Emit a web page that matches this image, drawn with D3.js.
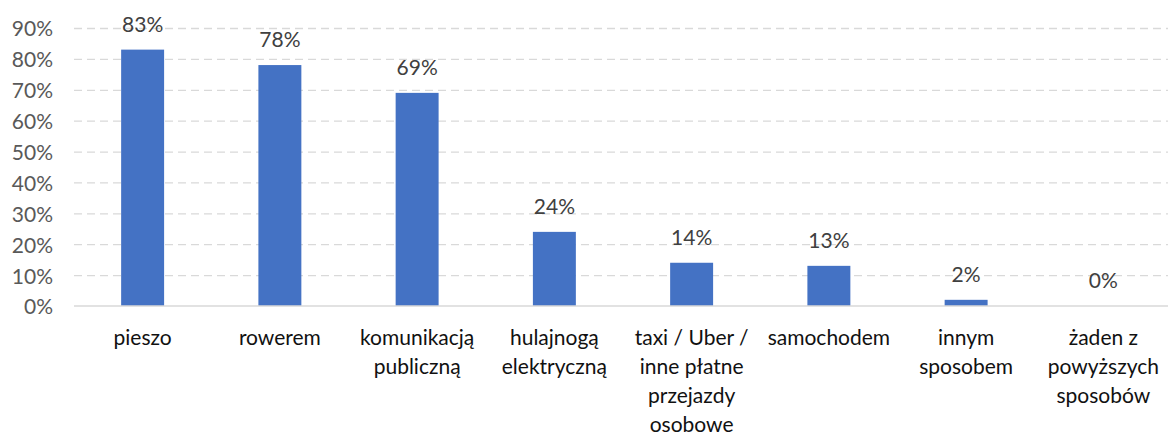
<html>
<meta charset="utf-8" />
<head>
<title>Sposoby przemieszczania się</title>
<script src="https://cdn.jsdelivr.net/npm/d3@7/dist/d3.min.js"></script>
<style>
	body { margin: 0; background: #fff; }
	svg text { font-family: Lato, "Open Sans", sans-serif; }
</style>
</head>
<body>
<svg id="chart" width="1168" height="432"></svg>
<script>
// kategorie (z podziałem na linie jak w oryginale)
const categories = [
	'pieszo',
	'rowerem',
	'komunikacją\npubliczną',
	'hulajnogą\nelektryczną',
	'taxi / Uber /\ninne płatne\nprzejazdy\nosobowe',
	'samochodem',
	'innym\nsposobem',
	'żaden z\npowyższych\nsposobów'
];
const values = [83, 78, 69, 24, 14, 13, 2, 0];
const yTicks = [0, 10, 20, 30, 40, 50, 60, 70, 80, 90];

const svg = d3.select('#chart');
const plotLeft = 74, plotRight = 1172, plotTop = 28, plotBottom = 306;

let xScale = d3.scaleBand().domain(categories).range([plotLeft, plotRight])
	.paddingInner(0.687).paddingOuter(0.3435);
let yScale = d3.scaleLinear().domain([0, 90]).range([plotBottom, plotTop]);

// siatka pozioma (przerywana)
let grid = d3.axisLeft(yScale).tickValues(yTicks.slice(1)).tickSize(-(1168 - plotLeft)).tickFormat('');
svg.append('g').attr('transform', 'translate(' + plotLeft + ',0)').call(grid)
	.call(g => g.select('.domain').remove())
	.selectAll('line')
	.attr('stroke', '#d9d9d9')
	.attr('stroke-width', 1.3)
	.attr('stroke-dasharray', '8,5');

// etykiety osi Y
let yAxis = d3.axisLeft(yScale).tickValues(yTicks).tickSize(0).tickPadding(0).tickFormat(d => d + '%');
svg.append('g').attr('transform', 'translate(53,0)').call(yAxis)
	.call(g => g.select('.domain').remove())
	.selectAll('text')
	.attr('fill', '#595959')
	.attr('font-size', 21)
	.attr('dy', '0.38em');

// słupki
svg.append('g').selectAll('rect')
	.data(values)
	.join('rect')
	.attr('x', (d, i) => xScale(categories[i]))
	.attr('width', xScale.bandwidth())
	.attr('y', d => yScale(d))
	.attr('height', d => plotBottom - yScale(d))
	.attr('fill', '#4472c4');

// linia bazowa
svg.append('line')
	.attr('x1', plotLeft).attr('x2', 1168)
	.attr('y1', plotBottom).attr('y2', plotBottom)
	.attr('stroke', '#d9d9d9')
	.attr('stroke-width', 1.5);

// etykiety wartości
svg.append('g').selectAll('text')
	.data(values)
	.join('text')
	.attr('x', (d, i) => xScale(categories[i]) + xScale.bandwidth() / 2)
	.attr('y', d => yScale(d) - 18)
	.attr('text-anchor', 'middle')
	.attr('fill', '#404040')
	.attr('font-size', 21)
	.text(d => d + '%');

// etykiety kategorii
let xAxis = d3.axisBottom(xScale).tickSize(0).tickPadding(0);
let xg = svg.append('g').attr('transform', 'translate(0,' + plotBottom + ')').call(xAxis);
xg.select('.domain').remove();
xg.selectAll('text').each(function(d) {
	let t = d3.select(this);
	t.text(null).attr('y', 39).attr('dy', null)
		.attr('fill', '#111').attr('font-size', 21);
	d.split('\n').forEach((line, k) => {
		t.append('tspan').attr('x', 0).attr('dy', k === 0 ? 0 : 29).text(line);
	});
});
</script>
</body>
</html>
